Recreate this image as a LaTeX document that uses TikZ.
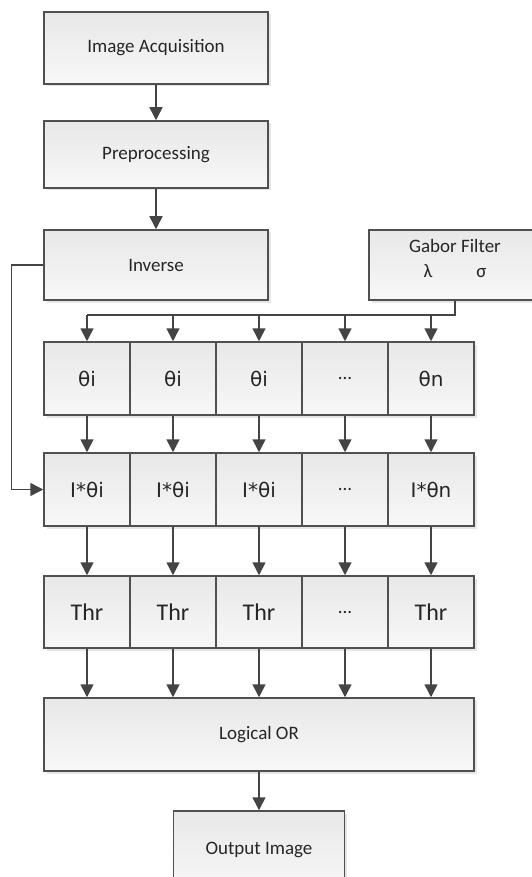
\documentclass[tikz,border=0pt]{standalone}
\usepackage{fontspec}
\setmainfont{Carlito}
\newfontfamily\thetafont{DejaVu Sans}
\usetikzlibrary{arrows.meta,shadows}

\definecolor{boxline}{HTML}{505050}
\definecolor{wireline}{HTML}{444444}

\begin{document}
\begin{tikzpicture}[x=1pt, y=-1pt,
    block/.style={rectangle, draw=boxline, line width=1.5pt,
      top color=black!9, bottom color=black!3,
      drop shadow={opacity=0.2, shadow xshift=2.5pt, shadow yshift=-2.5pt},
      text=black!85, inner sep=0pt, align=center,
      font=\fontsize{19}{25}\selectfont},
    cell/.style={block, minimum width=86pt, minimum height=73pt},
    greek cell/.style={cell, font=\thetafont\fontsize{20}{24}\selectfont},
    thr cell/.style={cell, minimum height=72pt, font=\fontsize{24}{28}\selectfont},
    flow/.style={color=wireline, line width=1.5pt, -{Triangle[length=13pt,width=13pt]}}]

  \useasboundingbox (0,0) rectangle (531,877);

  \node[block, minimum width=224pt, minimum height=72pt] (acq) at (156,48) {Image Acquisition};
  \node[block, minimum width=224pt, minimum height=67pt] (pre) at (156,154.5) {Preprocessing};
  \node[block, minimum width=224pt, minimum height=70pt] (inv) at (156,265) {Inverse};
  \node[block, minimum width=172pt, minimum height=70pt] (gab) at (455,265)
    {Gabor Filter\\λ\hspace{44pt}σ\\[-11pt]};

  % filter orientations
  \node[greek cell] (t1) at (87,378.5) {θi};
  \node[greek cell] (t2) at (173,378.5) {θi};
  \node[greek cell] (t3) at (259,378.5) {θi};
  \node[cell] (t4) at (345,378.5) {...};
  \node[greek cell] (t5) at (431,378.5) {θn};

  % convolutions
  \node[greek cell] (c1) at (87,489.5) {I*θi};
  \node[greek cell] (c2) at (173,489.5) {I*θi};
  \node[greek cell] (c3) at (259,489.5) {I*θi};
  \node[cell] (c4) at (345,489.5) {...};
  \node[greek cell] (c5) at (431,489.5) {I*θn};

  % thresholds
  \node[thr cell] (h1) at (87,612) {Thr};
  \node[thr cell] (h2) at (173,612) {Thr};
  \node[thr cell] (h3) at (259,612) {Thr};
  \node[cell, minimum height=72pt] (h4) at (345,612) {...};
  \node[thr cell] (h5) at (431,612) {Thr};

  \node[block, minimum width=430pt, minimum height=73pt] (or) at (259,734.5) {Logical OR};
  \node[block, minimum width=171pt, minimum height=78pt] (out) at (259,850) {Output Image};

  \coordinate (bus) at (0,315);
  \draw[wireline, line width=1.5pt] (gab.south) |- (t1.north |- bus);

  \path[flow]
  (acq) edge (pre)
  (pre) edge (inv)
  (t1.north |- bus) edge (t1)
  (t2.north |- bus) edge (t2)
  (t3.north |- bus) edge (t3)
  (t4.north |- bus) edge (t4)
  (t5.north |- bus) edge (t5)
  (t1) edge (c1)
  (t2) edge (c2)
  (t3) edge (c3)
  (t4) edge (c4)
  (t5) edge (c5)
  (c1) edge (h1)
  (c2) edge (h2)
  (c3) edge (h3)
  (c4) edge (h4)
  (c5) edge (h5)
  (h1) edge (h1 |- or.north)
  (h2) edge (h2 |- or.north)
  (h3) edge (h3 |- or.north)
  (h4) edge (h4 |- or.north)
  (h5) edge (h5 |- or.north)
  (or) edge (out);

  % inverse image fed into every convolution
  \draw[flow] (inv.west) -- ++(-32,0) |- (c1.west);

\end{tikzpicture}
\end{document}
